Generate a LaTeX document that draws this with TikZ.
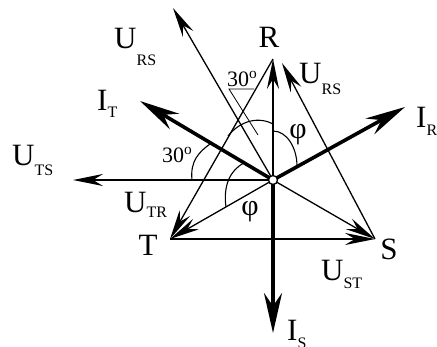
\documentclass[tikz,border=0pt]{standalone}
\usepackage{fontspec}
\setmainfont{Liberation Serif}
\usetikzlibrary{arrows.meta}

% letter with a dropped index
\newcommand{\phlab}[3]{#1\raisebox{-#3}{\fontsize{16}{16}\selectfont #2}}

\begin{document}
\begin{tikzpicture}[x=1pt,y=-1pt,
  thinvec/.style={line width=1.3pt, -{Stealth[length=30pt,width=12pt,inset=10pt]}},
  thickvec/.style={line width=3.6pt, -{Stealth[length=40pt,width=18pt,inset=13pt]}},
  anglemark/.style={line width=1.1pt},
  bigtext/.style={font=\fontsize{31}{31}\selectfont, inner sep=0pt},
  degtext/.style={font=\fontsize{22}{22}\selectfont, inner sep=0pt}]
\useasboundingbox (0,0) rectangle (437,346);

% Points
\coordinate (O) at (273,180);
\coordinate (R) at (273,59);
\coordinate (Rs) at (282,63);
\coordinate (S) at (375,239);
\coordinate (T) at (170,239);
\coordinate (Urs) at (173,8);
\coordinate (Uts) at (73,180);
\coordinate (Ir) at (405,107);
\coordinate (It) at (140,101);
\coordinate (Is) at (273,333);

% Line voltages (triangle)
\draw[thinvec] (R) -- (T);
\draw[thinvec] (T) -- (S);
\draw[thinvec] (S) -- (Rs);

% Phase voltages
\draw[thinvec] (O) -- (R);
\draw[thinvec] (O) -- (S);
\draw[thinvec] (O) -- (T);

% Shifted line voltages
\draw[thinvec] (O) -- (Urs);
\draw[thinvec] (O) -- (Uts);

% Currents
\draw[thickvec] (O) -- (Ir);
\draw[thickvec] (O) -- (It);
\draw[thickvec] (O) -- (Is);

% Angles
\draw[anglemark] (273,131) .. controls (287,131) and (297,148) .. (297,166);
\draw[anglemark] (273,124) .. controls (258,116) and (240,121) .. (228,136);
\draw[anglemark] (192,180) .. controls (190,161) and (199,152) .. (210,144);
\draw[anglemark] (226,207) .. controls (223,186) and (230,170) .. (244,163);
\draw[line width=0.8pt] (258,135) -- (229,89) -- (254,89);

\filldraw[fill=white, line width=1.3pt] (O) circle (4.5pt);

% Labels
\node[bigtext, anchor=base] (lR) at (269,47) {R};
\node[bigtext, anchor=base] (lT) at (148,255) {T};
\node[bigtext, anchor=base] (lS) at (389,259) {S};
\node[bigtext, anchor=base west] (lUrs) at (114,48) {\phlab{U}{RS}{17pt}};
\node[bigtext, anchor=base west] (lUrsb) at (299,83) {\phlab{U}{RS}{11pt}};
\node[bigtext, anchor=base west] (lIr) at (416,127) {\phlab{I}{R}{8pt}};
\node[bigtext, anchor=base west] (lIt) at (97,110) {\phlab{I}{T}{7pt}};
\node[bigtext, anchor=base west] (lUts) at (12,165) {\phlab{U}{TS}{10pt}};
\node[bigtext, anchor=base west] (lUtr) at (124,212) {\phlab{U}{TR}{5pt}};
\node[bigtext, anchor=base west] (lUst) at (321,280) {\phlab{U}{ST}{8pt}};
\node[bigtext, anchor=base west] (lIs) at (287,340) {\phlab{I}{S}{8pt}};
\node[degtext, anchor=base west] (dtop) at (227,86) {30\textsuperscript{o}};
\node[degtext, anchor=base west] (dleft) at (162,162) {30\textsuperscript{o}};
\node[font=\fontsize{30}{30}\selectfont, inner sep=0pt] (phitop) at (298,135) {φ};
\node[font=\fontsize{30}{30}\selectfont, inner sep=0pt] (phibot) at (250,212) {φ};
\end{tikzpicture}
\end{document}
